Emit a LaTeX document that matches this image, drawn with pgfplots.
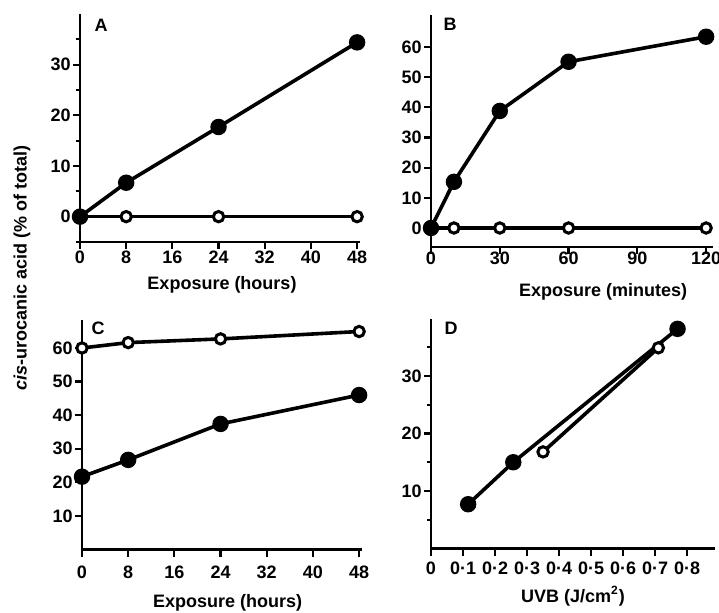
\documentclass[border=0pt]{standalone}
\usepackage{fontspec}
\setmainfont{Liberation Sans}
\usepackage{pgfplots}
\pgfplotsset{compat=1.18}

\pgfplotsset{
  panel/.style={
    anchor=south west, scale only axis, clip=false,
    axis lines=left, axis line style={-, line width=1.3pt},
    tick align=outside, major tick length=3.5pt, minor tick length=2.2pt,
    every tick/.style={black, line width=1.1pt},
    tick label style={font=\fontsize{9}{10}\selectfont\bfseries, inner sep=1pt},
    label style={font=\fontsize{9}{10}\selectfont\bfseries},
    /pgf/number format/assume math mode=true,
    xlabel style={at={(axis description cs:0.5,0)}, anchor=center},
  },
  filled/.style={black, line width=1.8pt, mark=*, mark size=3.2pt},
  open/.style={black, line width=1.8pt, mark=*, mark size=2.6pt,
    mark options={fill=white, draw=black, line width=1.5pt}},
}

\begin{document}
\begin{tikzpicture}
\useasboundingbox (0,0) rectangle (359.5pt,306pt);

% A
\begin{axis}[panel, at={(40pt,185pt)}, width=140pt, height=114pt,
  xmin=0, xmax=48.5, ymin=-5, ymax=40,
  xtick={0,8,16,24,32,40,48}, ytick={0,10,20,30}, minor ytick={-5,5,15,25,35},
  xlabel={Exposure (hours)}, xlabel style={yshift=-21.5pt, xshift=1pt}]
\addplot[open] coordinates {(0,0) (8,0) (24,0) (48,0)};
\addplot[filled] coordinates {(0,0) (8,6.7) (24,17.7) (48,34.4)};
\end{axis}

% B
\begin{axis}[panel, at={(215.5pt,182.5pt)}, width=141pt, height=116pt,
  xmin=0, xmax=123, ymin=-6.3, ymax=70.6,
  xtick={0,30,60,90,120}, ytick={0,10,20,30,40,50,60},
  xticklabel style={yshift=2pt},
  xlabel={Exposure (minutes)},
  xlabel style={at={(axis description cs:0.61,0)}, yshift=-22.5pt}]
\addplot[open] coordinates {(0,0) (10,0) (30,0) (60,0) (120,0)};
\addplot[filled] coordinates {(0,0) (10,15.3) (30,38.8) (60,55.1) (120,63.4)};
\end{axis}

% C
\begin{axis}[panel, at={(41pt,31.2pt)}, width=140pt, height=114.75pt,
  xmin=0, xmax=48.5, ymin=0, ymax=68.3,
  xtick={0,8,16,24,32,40,48}, ytick={10,20,30,40,50,60},
  xticklabel style={yshift=-3.3pt},
  xlabel={Exposure (hours)},
  xlabel style={at={(axis description cs:0.52,0)}, yshift=-26.7pt}]
\addplot[open] coordinates {(0,60) (8,61.6) (24,62.7) (48,64.9)};
\addplot[filled] coordinates {(0,21.7) (8,26.7) (24,37.4) (48,46.0)};
\end{axis}

% D
\begin{axis}[panel, at={(215.5pt,31.75pt)}, width=142pt, height=115pt,
  xmin=0, xmax=0.887, ymin=0, ymax=40,
  xtick={0,0.1,0.2,0.3,0.4,0.5,0.6,0.7,0.8},
  xticklabels={0,0·1,0·2,0·3,0·4,0·5,0·6,0·7,0·8},
  ytick={10,20,30}, minor ytick={5,15,25,35},
  xticklabel style={yshift=-2pt},
  xlabel={UVB (J/cm\textsuperscript{2})},
  xlabel style={yshift=-24pt}]
\addplot[open] coordinates {(0.35,16.8) (0.71,34.9)};
\addplot[filled] coordinates {(0.116,7.7) (0.257,15.0) (0.77,38.2)};
\end{axis}

\begin{scope}[every node/.style={font=\fontsize{9}{10}\selectfont\bfseries}]
\node at (50.5pt,293.5pt) {A};
\node at (225pt,294pt) {B};
\node at (49pt,142pt) {C};
\node at (225.5pt,142pt) {D};
\node[rotate=90] at (11pt,172pt) {\textit{cis}-urocanic acid (\% of total)};
\end{scope}
\end{tikzpicture}
\end{document}
